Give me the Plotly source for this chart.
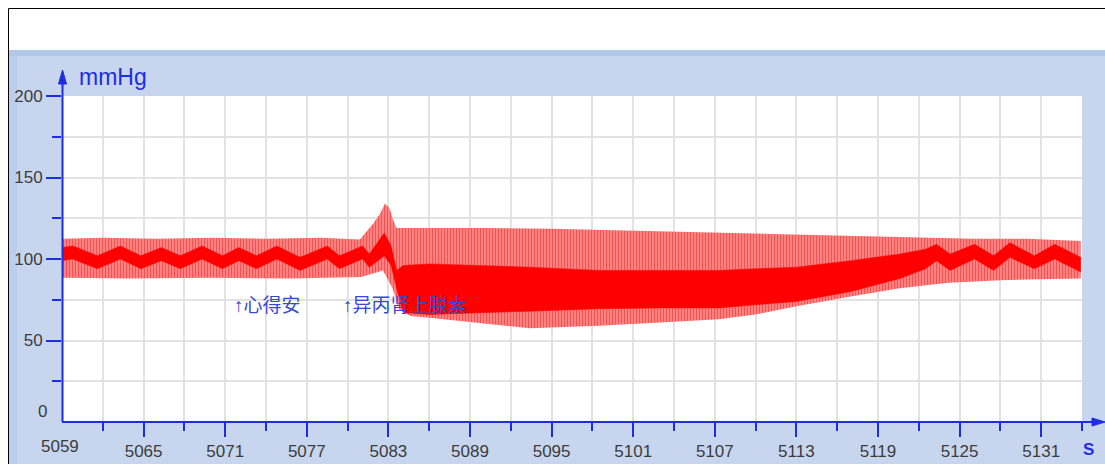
import plotly.graph_objects as go

# ---------------- data ----------------
# upper envelope of the pressure trace (systolic peaks), time in s, value in mmHg
sys_t = [5059.0, 5062.0, 5066.0, 5070.0, 5074.0, 5078.0, 5080.9, 5081.9, 5082.4,
         5082.75, 5083.1, 5083.3, 5083.6, 5084.1, 5090.0, 5095.0, 5100.0, 5107.0,
         5113.0, 5120.0, 5126.0, 5130.0, 5133.9]
sys_v = [112.5, 113.0, 112.5, 113.0, 112.5, 113.0, 112.0, 122.0, 128.0,
         134.0, 131.0, 125.0, 119.0, 119.0, 119.0, 118.5, 117.5, 116.0,
         115.0, 113.5, 112.5, 112.5, 111.0]

# lower envelope (diastolic troughs)
dia_t = [5059.0, 5064.0, 5070.0, 5076.0, 5081.0, 5082.6, 5083.3, 5083.8, 5084.6,
         5086.0, 5089.0, 5093.4, 5098.5, 5103.0, 5107.3, 5110.0, 5113.0, 5117.0,
         5120.6, 5124.2, 5128.0, 5133.9]
dia_v = [88.5, 88.0, 88.5, 88.0, 89.0, 93.0, 82.0, 69.0, 65.0,
         64.0, 61.5, 57.5, 59.0, 61.0, 63.0, 66.0, 71.0, 77.0,
         82.0, 85.5, 87.0, 88.0]

# dense core of the trace (where the waveform spends most time)
core_t = [5059.0, 5059.8, 5061.6, 5063.3, 5064.8, 5066.3, 5067.7, 5069.3, 5070.8,
          5072.0, 5073.3, 5074.8, 5076.5, 5078.5, 5079.4, 5081.1, 5081.6, 5082.7,
          5083.2, 5083.6, 5084.1, 5086.0, 5093.4, 5098.5, 5103.0, 5107.3, 5110.0,
          5113.0, 5117.0, 5120.6, 5122.5, 5123.3, 5124.3, 5126.1, 5127.5, 5128.7,
          5130.5, 5132.0, 5133.9]
core_hi = [107, 108, 102, 108, 102, 107, 102, 108, 102,
           107, 102, 108, 101, 108, 102, 108, 103, 116,
           108, 93, 96, 97, 95, 93, 93, 93, 94,
           95, 99, 103, 106, 109, 103, 109, 102, 110,
           102, 109, 101]
core_lo = [99, 100, 94, 100, 94, 99, 94, 100, 94,
           99, 94, 100, 93, 100, 94, 100, 95, 102,
           96, 82, 67, 66, 68, 69.5, 70, 70, 72,
           74, 80, 88, 94, 99, 93, 100, 93, 101,
           94, 100, 92]

x_tick_vals = [5065, 5071, 5077, 5083, 5089, 5095, 5101, 5107, 5113, 5119, 5125, 5131]
x_minor_vals = [5062, 5068, 5074, 5080, 5086, 5092, 5098, 5104, 5110, 5116, 5122, 5128, 5134]
y_tick_vals = [50, 100, 150, 200]
y_minor_vals = [25, 75, 125, 175]
x_first_label = "5059"
y_zero_label = "0"
y_unit = "mmHg"
x_unit = "S"
drug_labels = ["↑心得安", "↑异丙肾上腺素"]

# ---------------- layout geometry ----------------
W, H = 1105, 464
ML, MR, MT, MB = 62, 23, 96, 42
PW = W - ML - MR
PH = H - MT - MB


def px(x):
    return (x - ML) / PW


def py(y):
    return (H - MB - y) / PH


BLUE = "rgb(30,45,225)"
GRID = "rgb(226,226,226)"
LBL = "rgb(60,60,60)"

fig = go.Figure()

fig.add_trace(go.Scatter(
    x=sys_t + dia_t[::-1], y=sys_v + dia_v[::-1],
    mode="lines", fill="toself", line=dict(width=0, color="red"),
    fillcolor="rgb(255,150,150)",
    fillpattern=dict(shape="|", fgcolor="rgb(245,0,0)", bgcolor="rgb(255,160,160)",
                     size=3, solidity=0.58),
    hoverinfo="skip", showlegend=False))

fig.add_trace(go.Scatter(
    x=core_t + core_t[::-1], y=core_hi + core_lo[::-1],
    mode="lines", fill="toself", line=dict(width=0.5, color="rgb(255,0,0)"),
    fillcolor="rgb(255,0,0)", hoverinfo="skip", showlegend=False))

shapes = [
    # light-blue panel
    dict(type="rect", xref="paper", yref="paper", x0=px(9), x1=px(W + 5), y0=py(H + 5), y1=py(50),
         fillcolor="rgb(199,214,238)", line=dict(width=0), layer="below"),
    dict(type="rect", xref="paper", yref="paper", x0=px(9), x1=px(W + 5), y0=py(56), y1=py(50),
         fillcolor="rgb(178,200,232)", line=dict(width=0), layer="below"),
    dict(type="rect", xref="paper", yref="paper", x0=px(9), x1=px(17), y0=py(H + 5), y1=py(56),
         fillcolor="rgb(188,206,235)", line=dict(width=0), layer="below"),
    # white plotting area
    dict(type="rect", xref="paper", yref="paper", x0=0, x1=1, y0=0, y1=1,
         fillcolor="white", line=dict(width=0), layer="below"),
    # black frame
    dict(type="line", xref="paper", yref="paper", x0=px(8.5), x1=px(W + 5), y0=py(8.5), y1=py(8.5),
         line=dict(color="black", width=1), layer="below"),
    dict(type="line", xref="paper", yref="paper", x0=px(8.5), x1=px(8.5), y0=py(8.5), y1=py(H + 5),
         line=dict(color="black", width=1), layer="below"),
    # y axis line + arrow
    dict(type="line", xref="paper", yref="paper", x0=px(62.5), x1=px(62.5), y0=py(422), y1=py(82),
         line=dict(color=BLUE, width=2), layer="above"),
    dict(type="path", xref="paper", yref="paper",
         path=f"M {px(62.5)},{py(70)} L {px(58.5)},{py(84)} L {px(66.5)},{py(84)} Z",
         fillcolor=BLUE, line=dict(color=BLUE, width=1), layer="above"),
    # x axis line + arrow
    dict(type="line", xref="paper", yref="paper", x0=px(62), x1=px(1094), y0=py(422), y1=py(422),
         line=dict(color=BLUE, width=2), layer="above"),
    dict(type="path", xref="paper", yref="paper",
         path=f"M {px(1105)},{py(422)} L {px(1092)},{py(418)} L {px(1092)},{py(426)} Z",
         fillcolor=BLUE, line=dict(color=BLUE, width=1), layer="above"),
]

annotations = [
    dict(text=y_unit, x=px(77), y=py(77), xref="paper", yref="paper", xanchor="left", yanchor="middle",
         showarrow=False, font=dict(family="Liberation Sans, Arial", size=23, color=BLUE)),
    dict(text=f"<b>{x_unit}</b>", x=px(1088), y=py(449), xref="paper", yref="paper", xanchor="center",
         yanchor="middle", showarrow=False, font=dict(family="Liberation Sans, Arial", size=17, color=BLUE)),
    dict(text=y_zero_label, x=px(49), y=py(411), xref="paper", yref="paper", xanchor="right",
         yanchor="middle", showarrow=False, font=dict(family="Liberation Sans, Arial", size=17, color=LBL)),
    dict(text=x_first_label, x=px(60), y=py(446), xref="paper", yref="paper", xanchor="center",
         yanchor="middle", showarrow=False, font=dict(family="Liberation Sans, Arial", size=17, color=LBL)),
    dict(text=drug_labels[0], x=px(232), y=py(305), xref="paper", yref="paper", xanchor="left",
         yanchor="middle", showarrow=False,
         font=dict(family="Liberation Sans, Noto Sans CJK SC", size=19, color="rgb(55,75,200)")),
    dict(text=drug_labels[1], x=px(341), y=py(305), xref="paper", yref="paper", xanchor="left",
         yanchor="middle", showarrow=False,
         font=dict(family="Liberation Sans, Noto Sans CJK SC", size=19, color="rgb(55,75,200)")),
]

fig.update_layout(
    width=W, height=H,
    margin=dict(l=ML, r=MR, t=MT, b=MB, pad=0, autoexpand=False),
    paper_bgcolor="white", plot_bgcolor="white",
    shapes=shapes, annotations=annotations, showlegend=False,
    xaxis=dict(range=[5059, 5134], tickvals=x_tick_vals, ticks="outside", ticklen=14,
               tickwidth=2, tickcolor=BLUE, showline=False, zeroline=False, automargin=False,
               showgrid=True, gridcolor=GRID, gridwidth=1.5,
               tickfont=dict(family="Liberation Sans, Arial", size=17, color=LBL),
               minor=dict(tickvals=x_minor_vals, ticks="outside", ticklen=8, tickwidth=2,
                          tickcolor=BLUE, showgrid=True, gridcolor=GRID, gridwidth=1.5),
               fixedrange=True),
    yaxis=dict(range=[0, 200], tickvals=y_tick_vals, ticks="outside", ticklen=15,
               tickwidth=2, tickcolor=BLUE, showline=False, zeroline=False, automargin=False,
               showgrid=True, gridcolor=GRID, gridwidth=1.5,
               tickfont=dict(family="Liberation Sans, Arial", size=17, color=LBL),
               minor=dict(tickvals=y_minor_vals, ticks="outside", ticklen=9, tickwidth=2,
                          tickcolor=BLUE, showgrid=True, gridcolor=GRID, gridwidth=1.5),
               fixedrange=True),
)

fig.write_html("out.html", config={"displayModeBar": False})
